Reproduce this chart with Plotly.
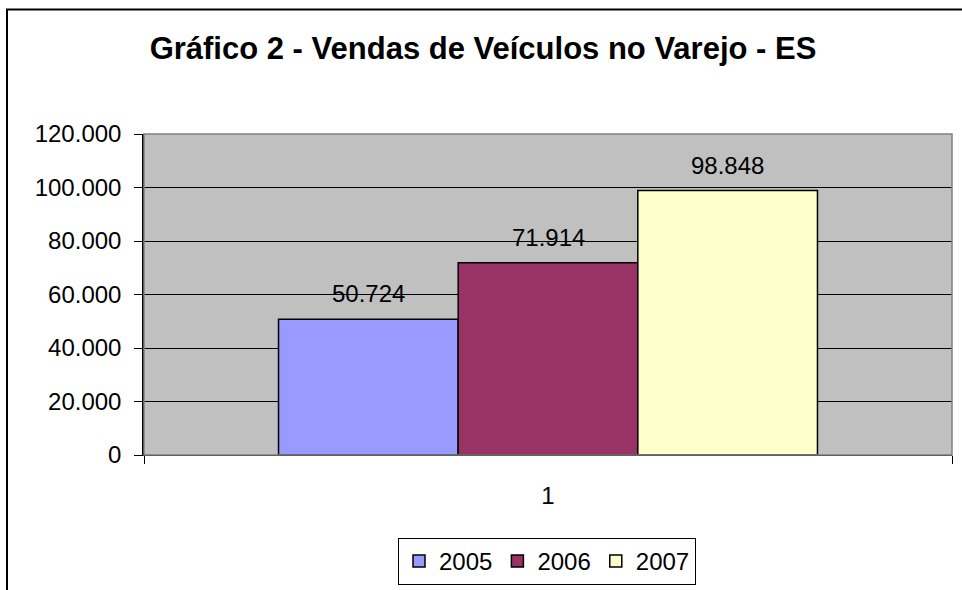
import plotly.graph_objects as go

categories = ["1"]
series_names = ["2005", "2006", "2007"]
series_values = [[50724], [71914], [98848]]
series_colors = ["#9999FF", "#993366", "#FFFFCC"]
y_ticks = [0, 20000, 40000, 60000, 80000, 100000, 120000]

W, H = 962, 590
L, R, T, B = 144, 10, 134, 135
pw, ph = W - L - R, H - T - B
FONT = "Liberation Sans, Arial, sans-serif"
FS = 24
BARGAP = 0.333

fig = go.Figure()
for name, vals, col in zip(series_names, series_values, series_colors):
    fig.add_trace(go.Bar(
        x=categories, y=vals, name=name,
        marker=dict(color=col, line=dict(color="black", width=1.5)),
    ))

# data labels above the bars
n = len(series_names)
bw = (1 - BARGAP) / n
for i, vals in enumerate(series_values):
    for j, v in enumerate(vals):
        fig.add_annotation(
            x=j + (i - (n - 1) / 2) * bw, y=v, xref="x", yref="y",
            text=f"{v:,}".replace(",", "."), showarrow=False,
            yanchor="bottom", yshift=10,
            font=dict(family=FONT, size=FS, color="black"),
        )

def px(x):
    return (x - L) / pw
def py(y):
    return (H - B - y) / ph

# outer chart frame (cropped at right/bottom)
fig.add_shape(type="rect", xref="paper", yref="paper",
              x0=px(7), x1=px(1000), y0=py(640), y1=py(9.5),
              line=dict(color="black", width=2), fillcolor="rgba(0,0,0,0)", layer="below")
# plot area border (gray)
fig.add_shape(type="rect", xref="paper", yref="paper", x0=0, x1=1, y0=0, y1=1,
              line=dict(color="#808080", width=1.5), fillcolor="rgba(0,0,0,0)", layer="above")

fig.update_layout(
    width=W, height=H,
    margin=dict(l=L, r=R, t=T, b=B, pad=0, autoexpand=False),
    paper_bgcolor="white", plot_bgcolor="#C0C0C0",
    barmode="group", bargap=BARGAP, bargroupgap=0,
    separators=",.",
    font=dict(family=FONT, size=FS, color="black"),
    title=dict(text="<b>Gráfico 2 - Vendas de Veículos no Varejo - ES</b>",
               x=483 / W, xanchor="center", y=1 - 48 / H, yanchor="middle",
               font=dict(family=FONT, size=31, color="black")),
    showlegend=True,
    legend=dict(orientation="h", xref="container", x=547 / W, xanchor="center",
                yref="container", y=1 - 538 / H, yanchor="top",
                bordercolor="black", borderwidth=1, bgcolor="white",
                font=dict(family=FONT, size=FS, color="black"),
                traceorder="normal", itemwidth=30),
    xaxis=dict(type="category", tickson="boundaries", ticks="outside", ticklen=8,
               tickcolor="black", showline=True, linecolor="black", linewidth=1,
               showgrid=False, tickfont=dict(size=FS), ticklabelstandoff=19,
               fixedrange=True, automargin=False),
    yaxis=dict(range=[0, 120000], tickvals=y_ticks, tickformat=",d",
               ticks="outside", ticklen=8, tickcolor="black",
               showline=True, linecolor="black", linewidth=1.5,
               showgrid=True, gridcolor="black", gridwidth=1,
               zeroline=False, tickfont=dict(size=FS), ticklabelstandoff=8,
               fixedrange=True, automargin=False),
)

fig.write_html("out.html", config={"displayModeBar": False},
               post_script="document.body.style.margin='0';")
